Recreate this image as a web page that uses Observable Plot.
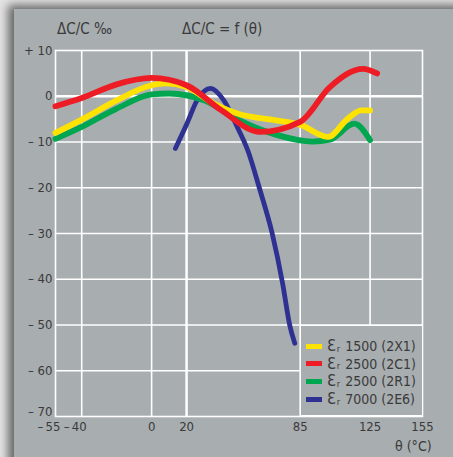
<!DOCTYPE html>
<html>
<head>
<meta charset="utf-8">
<script src="https://cdn.jsdelivr.net/npm/d3@7"></script>
<script src="https://cdn.jsdelivr.net/npm/@observablehq/plot@0.6"></script>
<style>
  html, body { margin: 0; padding: 0; background: #e6e6e6; }
  #wrap { position: relative; width: 453px; height: 457px; overflow: hidden; background: #e4e4e4;
    font-family: "Liberation Sans Narrow", "DejaVu Sans Condensed", "Roboto", sans-serif; color: #3a3a3a; }
  #panel { position: absolute; left: 14px; top: 9px; width: 470px; height: 470px; background: #a8adb0;
    box-shadow: -6px -4px 9px rgba(0,0,0,0.55); }
  #chart { position: absolute; left: 0; top: 0; }
  .lbl { position: absolute; font-size: 15px; white-space: nowrap; line-height: 1; }
  #legend { position: absolute; left: 300px; top: 325px; width: 121px; height: 89px; background: #a8adb0;
    border: 1.5px solid #fff; box-sizing: content-box; }
  .item { position: absolute; left: 5px; height: 16px; display: flex; align-items: center; font-size: 14px; line-height: 1; white-space: nowrap; }
  .sw { width: 16px; height: 5px; margin-right: 5px; }
  .eps { font-size: 16px; line-height: 1; margin-right: 1px; }
  .sub { font-size: 9px; line-height: 1; position: relative; top: 3px; margin-right: 5px; }
</style>
</head>
<body>
<div id="wrap">
  <div id="panel"></div>
  <div id="chart"></div>
  <div class="lbl" style="left:57px; top:22px;">ΔC/C ‰</div>
  <div class="lbl" style="left:182px; top:22px;">ΔC/C = f (θ)</div>
  <div class="lbl" style="left:395px; top:439px; font-size:14px;">θ (°C)</div>
  <div id="legend"></div>
</div>
<script>
// Series data (temperature °C, ΔC/C ‰)
const tempX1 = [-55, -40, -20, 0, 8, 20, 35, 50, 70, 85, 101, 112, 120, 125];
const valX1  = [-8.0, -5.1, -0.9, 2.4, 2.8, 2.0, -1.5, -3.9, -5.2, -6.2, -8.9, -5.0, -3.1, -3.1];

const tempC1 = [-55, -40, -20, 0, 20, 40, 62, 85, 102, 121, 129];
const valC1  = [-2.2, -0.4, 2.6, 4.0, 2.4, -3.1, -7.8, -5.6, 2.0, 6.0, 5.0];

const tempR1 = [-55, -40, -20, 0, 10, 30, 50, 72, 92, 102, 116, 125];
const valR1  = [-9.3, -6.7, -2.7, 0.4, 0.6, -0.9, -5.2, -8.5, -9.9, -9.5, -6.0, -9.6];

const tempE6 = [13.6, 20.3, 26, 33.7, 41.3, 49, 55, 62, 69, 75, 79, 81.9];
const valE6  = [-11.4, -5.9, -0.9, 1.7, -0.9, -6.7, -11.8, -20.5, -30, -41, -50, -54];

const seriesNames  = ["1500 (2X1)", "2500 (2C1)", "2500 (2R1)", "7000 (2E6)"];
const seriesColors = ["#ffe300", "#ee1c25", "#00a650", "#2e3192"];

const xTicks = [-55, -40, 0, 20, 85, 125, 155];
const xGrid  = [-40, 0, 20, 85, 125];
const yTicks = [10, 0, -10, -20, -30, -40, -50, -60, -70];
const yGrid  = [0, -10, -20, -30, -40, -50, -60];

const toRows = (ts, vs) => ts.map((t, i) => ({t, v: vs[i]}));
const dX1 = toRows(tempX1, valX1);
const dC1 = toRows(tempC1, valC1);
const dR1 = toRows(tempR1, valR1);
const dE6 = toRows(tempE6, valE6);

const fmtY = d => d > 0 ? "+ " + d : d < 0 ? "– " + (-d) : "0";
const fmtX = d => d < 0 ? "–\u2009" + (-d) : String(d);
const yMin = yTicks[yTicks.length - 1];

const plot = Plot.plot({
  width: 453,
  height: 457,
  marginLeft: 55,
  marginRight: 31,
  marginTop: 50,
  marginBottom: 41,
  style: { background: "transparent", fontFamily: '"Liberation Sans Narrow", "DejaVu Sans Condensed", sans-serif', fontSize: "13px", color: "#3a3a3a" },
  x: { domain: [-55, 155], label: null },
  y: { domain: [-70, 10], label: null },
  marks: [
    Plot.ruleX(xGrid, { stroke: "#fff", strokeWidth: d => d === 20 ? 2.5 : 1.6 }),
    Plot.ruleY(yGrid, { stroke: "#fff", strokeWidth: d => d === 0 ? 2.5 : 1.6 }),
    Plot.frame({ stroke: "#fff", strokeWidth: 1.6 }),
    Plot.axisX({ ticks: xTicks.filter(d => d < 0), tickFormat: fmtX, tickSize: 0, tickPadding: 5, textAnchor: "end", dx: 5, fill: "#3a3a3a", fontSize: 13, label: null }),
    Plot.axisX({ ticks: xTicks.filter(d => d >= 0), tickFormat: fmtX, tickSize: 0, tickPadding: 5, fill: "#3a3a3a", fontSize: 13, label: null }),
    Plot.axisY({ ticks: yTicks.filter(d => d !== yMin), tickFormat: fmtY, tickSize: 0, tickPadding: 3, fill: "#3a3a3a", fontSize: 13, label: null }),
    Plot.axisY({ ticks: [yMin], tickFormat: fmtY, tickSize: 0, tickPadding: 3, dy: -5, fill: "#3a3a3a", fontSize: 13, label: null }),
    Plot.line(dE6, { x: "t", y: "v", stroke: seriesColors[3], strokeWidth: 4.8, curve: "monotone-x" }),
    Plot.line(dR1, { x: "t", y: "v", stroke: seriesColors[2], strokeWidth: 5.8, curve: "monotone-x" }),
    Plot.line(dX1, { x: "t", y: "v", stroke: seriesColors[0], strokeWidth: 5.8, curve: "monotone-x" }),
    Plot.line(dC1, { x: "t", y: "v", stroke: seriesColors[1], strokeWidth: 5.8, curve: "monotone-x" })
  ]
});
document.getElementById("chart").appendChild(plot);

const legend = document.getElementById("legend");
seriesNames.forEach((name, i) => {
  const item = document.createElement("div");
  item.className = "item";
  item.style.top = (12 + i * 17.7) + "px";
  item.innerHTML = `<span class="sw" style="background:${seriesColors[i]}"></span><span class="eps">Ɛ</span><span class="sub">r</span><span>${name}</span>`;
  legend.appendChild(item);
});
</script>
</body>
</html>
